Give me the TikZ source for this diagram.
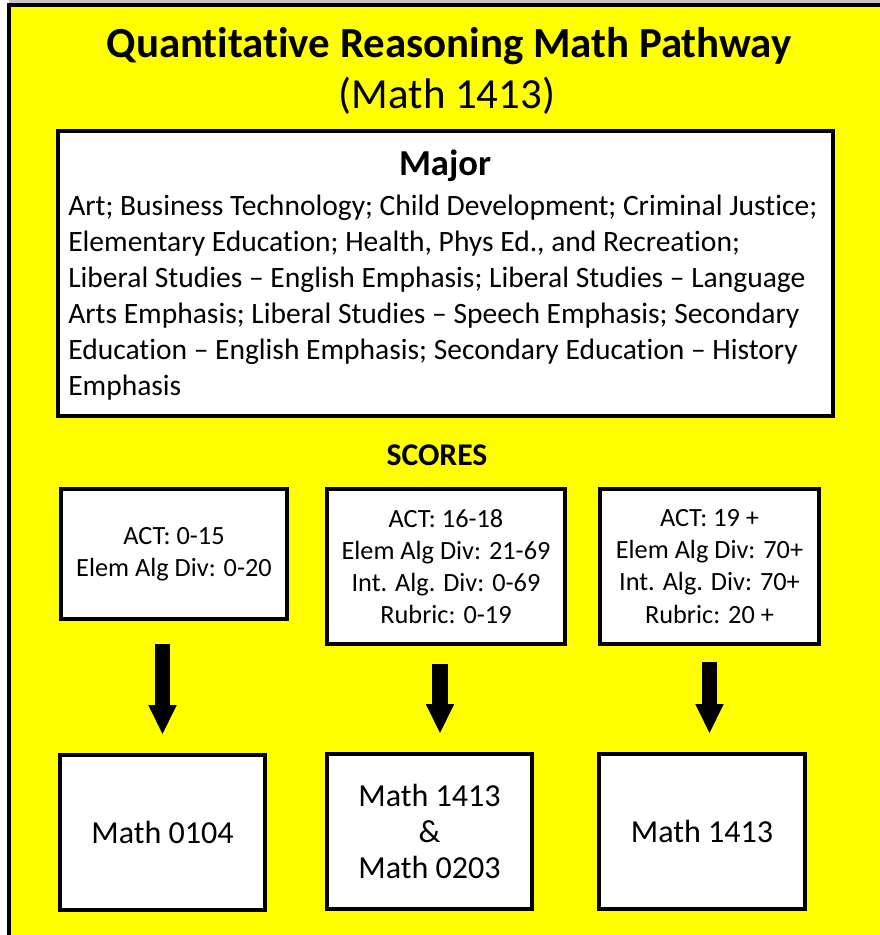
\documentclass[tikz,border=0pt]{standalone}
\usepackage{fontspec}
\setmainfont{Carlito}[Ligatures={NoCommon}]
\usetikzlibrary{arrows.meta,calc}

\definecolor{pageyellow}{RGB}{255,255,0}

\tikzset{
    box/.style={draw, line width=2.85pt, fill=white, inner sep=0pt},
    scorebox/.style={box, minimum height=3.875cm, align=center,
        font=\fontsize{18.7}{22.8}\selectfont},
    resultbox/.style={box, minimum width=5.125cm, minimum height=3.875cm,
        align=center, font=\fontsize{22.8}{25.6}\selectfont},
    blockarrow/.style={line width=10.7pt, -{Triangle[width=18.5pt,length=21pt]},
        shorten >=13pt, shorten <=13pt}
}

\begin{document}
\begin{tikzpicture}[x=0.025cm, y=-0.025cm]
    \useasboundingbox (0,0) rectangle (880,935);

    % Page
    \fill[gray!45] (9,0) rectangle (880,3);
    \fill[pageyellow] (9,5) rectangle (880,935);
    \draw[line width=2.85pt] (9,940) -- (9,5) -- (885,5);

    % Title
    \node (title) at (449,46) {\fontsize{30.5}{35}\selectfont\bfseries Quantitative Reasoning Math Pathway};
    \node (subtitle) at (447,96) {\fontsize{30.5}{35}\selectfont (Math 1413)};

    % Majors
    \node[box, minimum width=19.375cm, minimum height=7.125cm] (major) at (445.5,273.5) {};
    \node (majorhead) at (445,166) {\fontsize{26}{30}\selectfont\bfseries Major};
    \node[anchor=west, align=left, inner sep=0pt, font=\fontsize{21}{25.6}\selectfont]
        (majorlist) at (68,298) {Art; Business Technology; Child Development; Criminal Justice;\\
        Elementary Education; Health, Phys Ed., and Recreation;\\
        Liberal Studies -- English Emphasis; Liberal Studies -- Language\\
        Arts Emphasis; Liberal Studies -- Speech Emphasis; Secondary\\
        Education -- English Emphasis; Secondary Education -- History\\
        Emphasis};

    % Scores
    \node (scores) at (437,455) {\fontsize{22.5}{26}\selectfont\bfseries SCORES};
    \node[scorebox, minimum width=5.65cm, minimum height=3.25cm] (s1) at (174,554)
        {ACT: 0-15\\ Elem Alg Div: 0-20};
    \node[scorebox, minimum width=5.95cm] (s2) at (446,566.5)
        {ACT: 16-18\\ Elem Alg Div: 21-69\\ Int. Alg. Div: 0-69\\ Rubric: 0-19};
    \node[scorebox, minimum width=5.475cm] (s3) at (709.5,566.5)
        {ACT: 19 +\\ Elem Alg Div: 70+\\ Int. Alg. Div: 70+\\ Rubric: 20 +};

    % Courses
    \node[resultbox] (r1) at (162.5,832.5) {Math 0104};
    \node[resultbox] (r2) at (429.5,831.5) {Math 1413\\ \&\\ Math 0203};
    \node[resultbox] (r3) at (702,831.5) {Math 1413};

    % Arrows
    \coordinate (a2) at ($(s2.south)+(-6,0)$);
    \draw[blockarrow, shorten <=16pt] (s1.south -| r1.north) -- (r1.north);
    \draw[blockarrow] (a2) -- (a2 |- r2.north);
    \draw[blockarrow, shorten <=11.5pt] (s3.south) -- (s3.south |- r3.north);
\end{tikzpicture}
\end{document}
